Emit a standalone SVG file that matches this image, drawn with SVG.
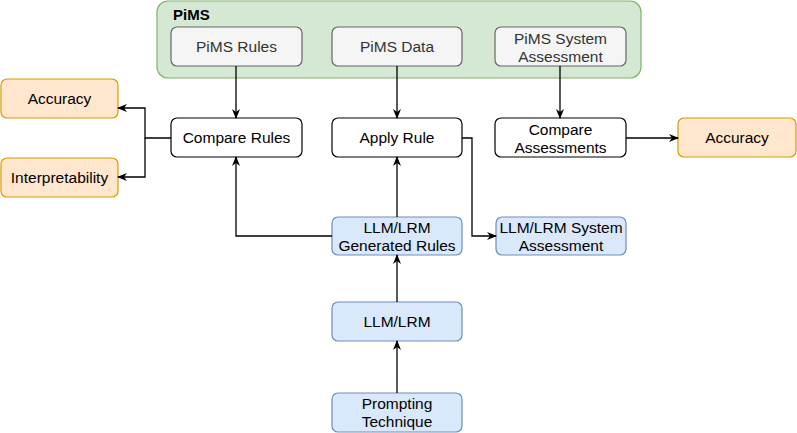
<svg xmlns="http://www.w3.org/2000/svg" width="797" height="433" viewBox="0 0 797 433">
<defs>
<marker id="ah" viewBox="0 0 10 8" refX="9" refY="4" markerWidth="10" markerHeight="8" markerUnits="userSpaceOnUse" orient="auto">
<path d="M0,0 L10,4 L0,8 L3,4 Z" fill="#000"/>
</marker>
</defs>
<style>
text{font-family:"Liberation Sans",Arial,sans-serif;font-size:15.5px;text-anchor:middle;fill:#000}
.g rect{fill:#f5f5f5;stroke:#666666;stroke-width:1.2}
.g text{fill:#333333}
.w rect{fill:#ffffff;stroke:#000000;stroke-width:1.2}
.o rect{fill:#ffe6cc;stroke:#d79b00;stroke-width:1.2}
.b rect{fill:#dae8fc;stroke:#6c8ebf;stroke-width:1.2}
.c path{fill:none;stroke:#000;stroke-width:1.3;marker-end:url(#ah)}
</style>
<g id="pims">
<rect x="157" y="1" width="484" height="77" rx="11" fill="#d5e8d4" stroke="#82b366" stroke-width="1.2"/>
<text x="173" y="20" style="text-anchor:start;font-weight:bold;font-size:15px">PiMS</text>
</g>
<g id="pims-rules" class="g"><rect x="171" y="27" width="131" height="39" rx="6"/><text x="236.5" y="52">PiMS Rules</text></g>
<g id="pims-data" class="g"><rect x="332" y="27" width="130" height="39" rx="6"/><text x="397" y="52">PiMS Data</text></g>
<g id="pims-sys" class="g"><rect x="495" y="27" width="131" height="39" rx="6"/><text x="560.5" y="44">PiMS System</text><text x="560.5" y="62">Assessment</text></g>
<g id="compare-rules" class="w"><rect x="171" y="118" width="131" height="39" rx="6"/><text x="236.5" y="143">Compare Rules</text></g>
<g id="apply-rule" class="w"><rect x="332" y="118" width="130" height="39" rx="6"/><text x="397" y="143">Apply Rule</text></g>
<g id="compare-assess" class="w"><rect x="495" y="118" width="131" height="39" rx="6"/><text x="560.5" y="135">Compare</text><text x="560.5" y="153">Assessments</text></g>
<g id="accuracy-left" class="o"><rect x="1" y="79" width="117" height="39" rx="6"/><text x="59.5" y="104">Accuracy</text></g>
<g id="interpretability" class="o"><rect x="1" y="158" width="117" height="39" rx="6"/><text x="59.5" y="183">Interpretability</text></g>
<g id="accuracy-right" class="o"><rect x="678" y="118" width="118" height="39" rx="6"/><text x="737" y="143">Accuracy</text></g>
<g id="gen-rules" class="b"><rect x="332" y="217" width="130" height="38" rx="6"/><text x="397" y="233">LLM/LRM</text><text x="397" y="251">Generated Rules</text></g>
<g id="llm-sys" class="b"><rect x="496" y="217" width="130" height="38" rx="6"/><text x="561" y="233">LLM/LRM System</text><text x="561" y="251">Assessment</text></g>
<g id="llm" class="b"><rect x="332" y="302" width="130" height="39" rx="6"/><text x="397" y="327">LLM/LRM</text></g>
<g id="prompting" class="b"><rect x="332" y="393" width="130" height="39" rx="6"/><text x="397" y="409">Prompting</text><text x="397" y="427">Technique</text></g>
<g id="connectors" class="c">
<path d="M236,66 V118"/>
<path d="M397,66 V118"/>
<path d="M560,66 V118"/>
<path d="M171,138 H145 V108 H118"/>
<path d="M145,138 V177 H118"/>
<path d="M332,236 H236 V157"/>
<path d="M462,138 H472 V236 H496"/>
<path d="M626,138 H678"/>
<path d="M397,217 V157"/>
<path d="M397,302 V255"/>
<path d="M397,393 V341"/>
</g>
</svg>
